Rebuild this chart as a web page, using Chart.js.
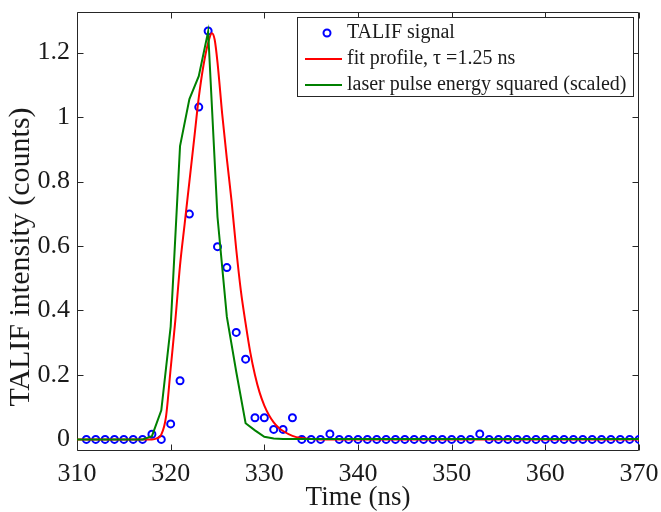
<!DOCTYPE html>
<html>
<head>
<meta charset="utf-8">
<script src="https://cdn.jsdelivr.net/npm/chart.js@4.4.1/dist/chart.umd.min.js"></script>
<style>
  html, body { margin: 0; padding: 0; background: #fff; }
  #wrap { width: 661px; height: 512px; }
</style>
</head>
<body>
<div id="wrap"><canvas id="talif-chart" width="661" height="512"></canvas></div>
<script>
// measured TALIF signal, one sample per ns
const signalTime = [311, 312, 313, 314, 315, 316, 317, 318, 319, 320,
  321, 322, 323, 324, 325, 326, 327, 328, 329, 330,
  331, 332, 333, 334, 335, 336, 337, 338, 339, 340,
  341, 342, 343, 344, 345, 346, 347, 348, 349, 350,
  351, 352, 353, 354, 355, 356, 357, 358, 359, 360,
  361, 362, 363, 364, 365, 366, 367, 368, 369, 370];
const signalCounts = [0, 0, 0, 0, 0, 0, 0, 0.016, 0, 0.048,
  0.182, 0.699, 1.031, 1.267, 0.598, 0.533, 0.332, 0.249, 0.067, 0.067,
  0.031, 0.031, 0.067, 0, 0, 0, 0.017, 0, 0, 0,
  0, 0, 0, 0, 0, 0, 0, 0, 0, 0,
  0, 0, 0.017, 0, 0, 0, 0, 0, 0, 0,
  0, 0, 0, 0, 0, 0, 0, 0, 0, 0];

// fitted profile, tau = 1.25 ns
const fitTime = [310, 318, 318.5, 319, 319.5, 320, 320.5, 321, 321.5, 322,
  322.5, 323, 323.5, 324, 324.4, 324.7, 325, 325.5, 326, 326.5,
  327, 327.5, 328, 328.5, 329, 329.5, 330, 330.5, 331, 331.5,
  332, 333, 334, 335, 336, 370];
const fitCounts = [0, 0, 0.003, 0.015, 0.07, 0.22, 0.37, 0.54, 0.67, 0.8,
  0.93, 1.06, 1.16, 1.23, 1.26, 1.24, 1.17, 1.01, 0.87, 0.74,
  0.59, 0.46, 0.36, 0.27, 0.2, 0.145, 0.105, 0.075, 0.053, 0.037,
  0.026, 0.011, 0.004, 0.001, 0, 0];

// laser pulse energy squared (scaled)
const laserTime = [310, 317, 318, 319, 320, 321, 322, 323, 324, 325,
  326, 327, 328, 329, 330, 331, 332, 370];
const laserCounts = [0, 0, 0.01, 0.09, 0.35, 0.91, 1.056, 1.127, 1.265, 0.69,
  0.38, 0.21, 0.05, 0.028, 0.008, 0.003, 0.001, 0.001];

const seriesLabels = ["TALIF signal", "fit profile, \u03c4 =1.25 ns", "laser pulse energy squared (scaled)"];
const seriesColors = ["#0000ff", "#ff0000", "#008000"];

const xTicks = [310, 320, 330, 340, 350, 360, 370];
const yTicks = [0, 0.2, 0.4, 0.6, 0.8, 1, 1.2];

const serif = "'Liberation Serif', 'Times New Roman', serif";
const inkColor = "#1a1a1a";

function toXY(xs, ys) {
  return xs.map((x, i) => ({ x: x, y: ys[i] }));
}

// matlab style box with inward ticks on all four sides
const axesBox = {
  id: "axesBox",
  beforeDatasetsDraw(chart) {
    const { ctx, chartArea: a, scales } = chart;
    const L = Math.round(a.left) + 0.5, R = Math.round(a.right) - 0.5;
    const T = Math.round(a.top) + 0.5, B = Math.round(a.bottom) - 0.5;
    const tl = 6;
    ctx.save();
    ctx.strokeStyle = "#262626";
    ctx.lineWidth = 1;
    ctx.beginPath();
    ctx.rect(L, T, R - L, B - T);
    xTicks.forEach((v) => {
      const px = Math.round(scales.x.getPixelForValue(v)) + 0.5;
      ctx.moveTo(px, B); ctx.lineTo(px, B - tl);
      ctx.moveTo(px, T); ctx.lineTo(px, T + tl);
    });
    yTicks.forEach((v) => {
      const py = Math.round(scales.y.getPixelForValue(v)) + 0.5;
      ctx.moveTo(L, py); ctx.lineTo(L + tl, py);
      ctx.moveTo(R, py); ctx.lineTo(R - tl, py);
    });
    ctx.stroke();
    ctx.restore();
  },
  afterDraw(chart) {
    const { ctx } = chart;
    ctx.save();
    // y axis title
    ctx.fillStyle = inkColor;
    ctx.font = "30px " + serif;
    ctx.textAlign = "center";
    ctx.textBaseline = "middle";
    ctx.translate(21, 257);
    ctx.rotate(-Math.PI / 2);
    ctx.fillText("TALIF intensity (counts)", 0, 0);
    ctx.restore();

    // legend box in the upper right corner
    const bx = 297.5, by = 17.5, bw = 336, bh = 79;
    ctx.save();
    ctx.fillStyle = "#fff";
    ctx.strokeStyle = "#262626";
    ctx.lineWidth = 1;
    ctx.fillRect(bx, by, bw, bh);
    ctx.strokeRect(bx, by, bw, bh);
    ctx.font = "20px " + serif;
    ctx.textBaseline = "middle";
    ctx.textAlign = "left";
    seriesLabels.forEach((label, i) => {
      const cy = by + 15.5 + i * 26;
      ctx.strokeStyle = seriesColors[i];
      ctx.lineWidth = 2;
      ctx.beginPath();
      if (i === 0) {
        ctx.arc(327, cy, 3.5, 0, Math.PI * 2);
      } else {
        ctx.moveTo(305, cy);
        ctx.lineTo(342, cy);
      }
      ctx.stroke();
      ctx.fillStyle = inkColor;
      ctx.fillText(label, 347, cy);
    });
    ctx.restore();
  },
};

new Chart(document.getElementById("talif-chart").getContext("2d"), {
  type: "scatter",
  data: {
    datasets: [
      {
        label: seriesLabels[0],
        data: toXY(signalTime, signalCounts),
        showLine: false,
        pointStyle: "circle",
        pointRadius: 3.5,
        pointBorderWidth: 2,
        borderColor: seriesColors[0],
        backgroundColor: "rgba(0,0,0,0)",
        order: 3,
      },
      {
        label: seriesLabels[1],
        data: toXY(fitTime, fitCounts),
        showLine: true,
        pointRadius: 0,
        borderWidth: 2,
        borderColor: seriesColors[1],
        cubicInterpolationMode: "monotone",
        order: 2,
      },
      {
        label: seriesLabels[2],
        data: toXY(laserTime, laserCounts),
        showLine: true,
        pointRadius: 0,
        borderWidth: 2,
        borderColor: seriesColors[2],
        tension: 0,
        order: 1,
      },
    ],
  },
  options: {
    responsive: false,
    animation: false,
    devicePixelRatio: 1,
    layout: { padding: { top: 12, right: 22, left: 0, bottom: 0 } },
    plugins: { legend: { display: false }, tooltip: { enabled: false } },
    scales: {
      x: {
        type: "linear",
        min: 310,
        max: 370,
        afterBuildTicks: (s) => { s.ticks = xTicks.map((v) => ({ value: v })); },
        afterFit: (s) => { s.height = 61; s.paddingLeft = 0; s.paddingRight = 0; },
        grid: { display: false, drawTicks: false },
        border: { display: false },
        ticks: { color: inkColor, font: { family: serif, size: 26 }, padding: 8, maxRotation: 0 },
        title: { display: true, text: "Time (ns)", color: inkColor,
          font: { family: serif, size: 27, lineHeight: 1.05 }, padding: 0 },
      },
      y: {
        type: "linear",
        min: -0.036,
        max: 1.326,
        afterBuildTicks: (s) => { s.ticks = yTicks.map((v) => ({ value: v })); },
        afterFit: (s) => { s.width = 77; s.paddingTop = 0; s.paddingBottom = 0; },
        grid: { display: false, drawTicks: false },
        border: { display: false },
        ticks: { color: inkColor, font: { family: serif, size: 26 }, padding: 7,
          callback: (v) => String(+Number(v).toFixed(2)) },
      },
    },
  },
  plugins: [axesBox],
});
</script>
</body>
</html>
